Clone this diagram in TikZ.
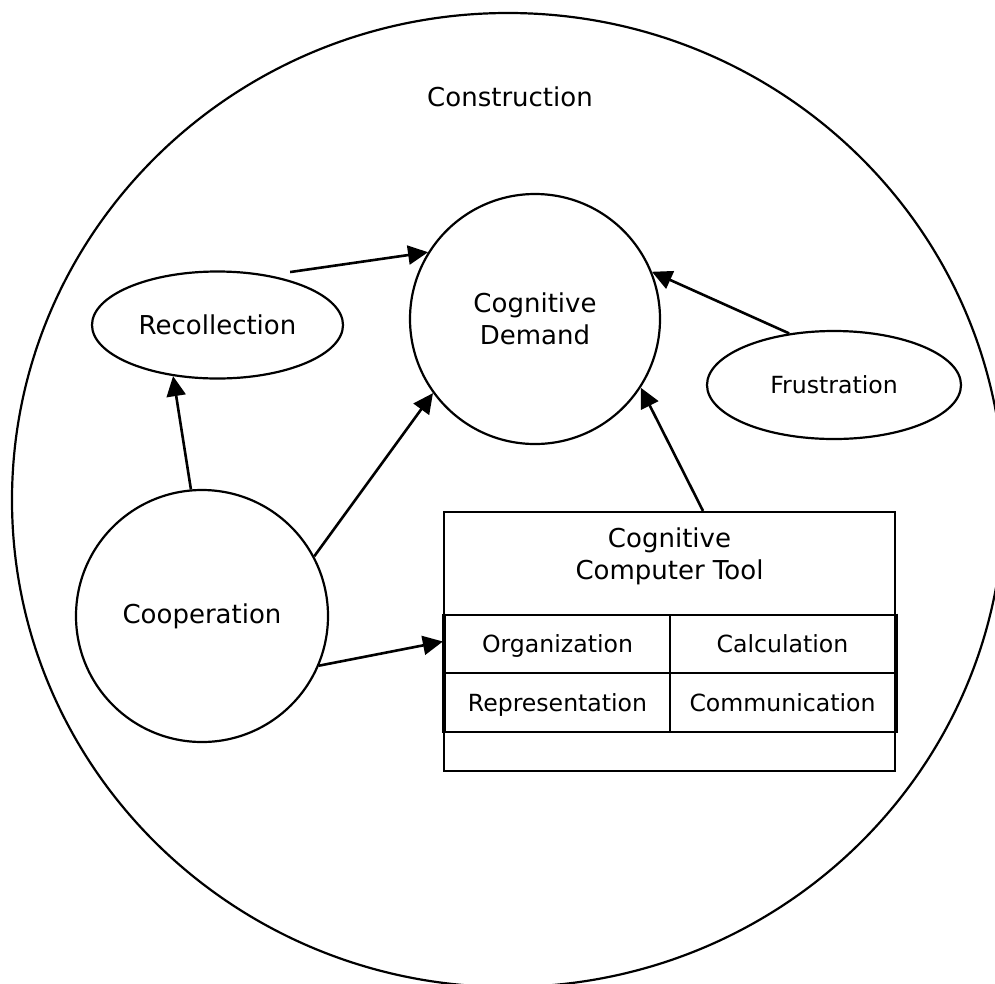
\documentclass[tikz,border=0pt]{standalone}
\usepackage{fontspec}
\setmainfont{DejaVu Sans}
\usepackage{tikz}
\usetikzlibrary{shapes.geometric,arrows.meta}

\begin{document}
\begin{tikzpicture}[x=1pt, y=-1pt, line width=2.2pt,
        bigtext/.style={font=\fontsize{26}{32}\selectfont},
        smalltext/.style={font=\fontsize{23.6}{28}\selectfont},
        bubble/.style={draw, ellipse, inner sep=0pt},
        ball/.style={draw, circle, inner sep=0pt},
        cell/.style={draw, rectangle, minimum width=225pt, minimum height=58.5pt, inner sep=0pt, text depth=0pt, smalltext},
        arr/.style={line width=2.6pt, -{Triangle[length=20pt,width=19pt]}}]

        \useasboundingbox (0,0) rectangle (995,983);

        % outer frame
        \node[bubble, minimum width=992pt, minimum height=974pt] (constr) at (508,500) {};
        \node[bigtext] (constrlabel) at (510,97) {Construction};

        \node[ball, minimum size=250pt, bigtext, align=center] (demand) at (535,319) {Cognitive\\Demand};

        \node[bubble, minimum width=251pt, minimum height=107pt, bigtext] (recall) at (217.5,325) {Recollection};

        \node[bubble, minimum width=254pt, minimum height=108pt, smalltext] (frust) at (834,385) {Frustration};

        \node[ball, minimum size=252pt, bigtext] (coop) at (202,616) {Cooperation};

        % the tool box and its table
        \node[draw, rectangle, minimum width=451pt, minimum height=259pt, inner sep=0pt] (tool) at (669.5,641.5) {};
        \node[bigtext, align=center] (tooltitle) at (669.5,556) {Cognitive\\Computer Tool};

        \node[cell] (org) at (557.5,644) {Organization};
        \node[cell] (calc) at (782.5,644) {Calculation};
        \node[cell] (rep) at (557.5,702.5) {Representation};
        \node[cell] (comm) at (782.5,702.5) {Communication};

        \draw[line width=3.4pt] (org.north west) -- (rep.south west);
        \draw[line width=3.4pt] (calc.north east) -- (comm.south east);

        % arrows
        \draw[arr] ([shift={(8,-6)}]recall.36) -- (demand.148);
        \draw[arr] (coop.95) -- (recall.229);
        \draw[arr] (coop.28) -- (demand.216);
        \draw[arr] (coop.-23) -- (tool.west);
        \draw[arr] (frust.131) -- (demand.22);
        \draw[arr] ([xshift=33.5pt]tool.north) -- (demand.-33);

    \end{tikzpicture}
\end{document}
